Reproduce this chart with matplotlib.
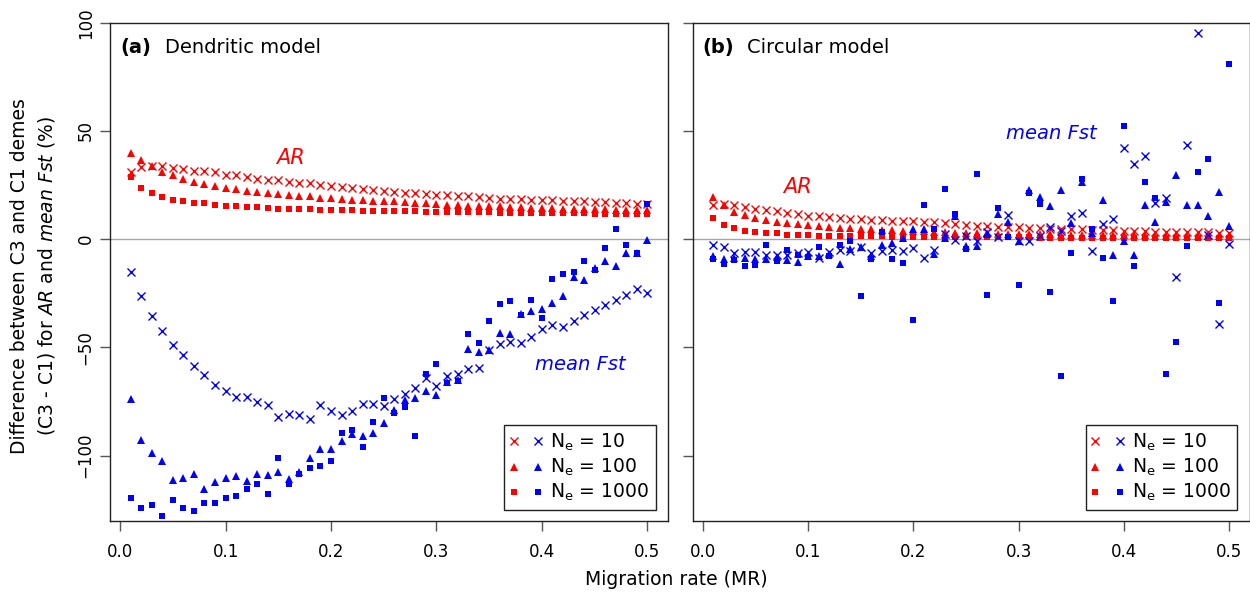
import matplotlib
matplotlib.use("Agg")
import matplotlib.pyplot as plt
from matplotlib.legend_handler import HandlerTuple

plt.rcParams["font.family"] = "DejaVu Sans"
plt.rcParams["mathtext.fontset"] = "dejavusans"

# migration rate (x) shared by both panels
mr = [0.01, 0.02, 0.03, 0.04, 0.05, 0.06, 0.07, 0.08, 0.09, 0.10,
      0.11, 0.12, 0.13, 0.14, 0.15, 0.16, 0.17, 0.18, 0.19, 0.20,
      0.21, 0.22, 0.23, 0.24, 0.25, 0.26, 0.27, 0.28, 0.29, 0.30,
      0.31, 0.32, 0.33, 0.34, 0.35, 0.36, 0.37, 0.38, 0.39, 0.40,
      0.41, 0.42, 0.43, 0.44, 0.45, 0.46, 0.47, 0.48, 0.49, 0.50]

ne_labels = ["10", "100", "1000"]

# (a) dendritic model
dend_ar_10 = [31.1, 33.5, 33.8, 34.0, 32.9, 32.6, 31.7, 31.4, 30.8, 29.8,
              29.5, 28.5, 27.8, 27.5, 27.4, 26.3, 26.0, 25.7, 25.1, 24.6,
              24.2, 23.4, 23.1, 22.8, 22.2, 21.8, 21.5, 21.2, 20.9, 20.6,
              20.2, 20.0, 19.7, 19.5, 19.2, 18.6, 18.6, 18.6, 18.3, 18.2,
              18.0, 17.8, 17.7, 17.5, 17.2, 17.1, 16.9, 16.5, 16.3, 16.0]
dend_ar_100 = [39.7, 36.5, 33.8, 30.9, 29.7, 27.8, 26.5, 25.4, 24.6, 23.8,
               23.1, 22.3, 22.0, 21.5, 20.9, 20.5, 20.0, 19.7, 19.1, 18.8,
               18.5, 18.2, 18.0, 17.7, 17.4, 17.4, 17.1, 16.8, 16.5, 16.2,
               15.8, 15.7, 15.4, 15.4, 15.2, 15.1, 14.9, 14.8, 14.6, 14.4,
               14.2, 14.1, 14.0, 13.9, 13.8, 13.7, 13.6, 13.5, 13.5, 13.4]
dend_ar_1000 = [28.5, 23.7, 21.1, 19.5, 18.3, 17.8, 16.9, 16.5, 15.8, 15.5,
                15.1, 14.9, 14.8, 14.6, 14.0, 14.0, 14.0, 14.0, 13.5, 13.5,
                13.5, 13.5, 13.1, 13.1, 13.1, 13.1, 13.1, 13.1, 12.6, 12.6,
                12.6, 12.6, 12.6, 12.6, 12.5, 12.3, 12.3, 12.2, 12.2, 12.2,
                12.1, 12.1, 12.0, 12.0, 11.8, 11.8, 11.8, 11.8, 11.8, 11.8]
dend_fst_10 = [-15.1, -26.2, -35.4, -42.3, -48.9, -53.7, -58.5, -62.9, -67.4, -70.2,
               -72.8, -72.8, -75.1, -76.8, -82.3, -80.6, -81.4, -83.1, -76.8, -79.4,
               -81.4, -79.3, -76.3, -76.3, -77.1, -74.0, -71.4, -68.9, -64.0, -67.9,
               -63.4, -62.5, -60.2, -59.4, -51.1, -48.5, -47.6, -48.2, -45.4, -41.7,
               -39.7, -40.5, -37.6, -35.1, -32.6, -30.6, -28.0, -25.9, -23.0, -25.0]
dend_fst_100 = [-74.0, -92.6, -98.9, -102.5, -111.3, -110.5, -108.5, -115.6, -112.2, -110.6,
                -109.6, -111.6, -108.6, -108.9, -107.4, -110.9, -107.7, -101.2, -96.9, -96.8,
                -93.3, -89.9, -91.0, -89.4, -85.1, -79.0, -74.5, -73.6, -70.3, -72.0,
                -66.0, -65.0, -50.8, -52.2, -51.1, -43.4, -44.0, -34.8, -33.2, -32.2,
                -29.6, -26.2, -17.4, -18.8, -13.3, -9.9, -12.3, -6.2, -6.5, -0.4]
dend_fst_1000 = [-119.7, -124.3, -122.9, -127.7, -120.6, -124.3, -125.7, -122.0, -121.7, -119.7,
                 -118.8, -115.6, -113.2, -117.9, -100.9, -113.2, -108.6, -105.6, -105.0, -102.6,
                 -89.7, -88.0, -96.2, -84.6, -73.6, -80.3, -77.7, -91.1, -62.3, -57.9,
                 -66.6, -65.7, -44.0, -48.2, -37.6, -30.2, -28.8, -35.2, -28.3, -36.6,
                 -18.2, -15.9, -15.2, -9.9, -14.2, -4.3, 4.5, -2.5, -6.2, 16.3]

# (b) circular model
circ_ar_10 = [15.8, 16.2, 15.8, 15.0, 13.9, 13.3, 12.8, 12.1, 11.6, 10.8,
              10.5, 10.2, 9.9, 9.3, 9.2, 9.0, 8.7, 8.5, 8.4, 8.2,
              8.0, 7.7, 7.4, 7.0, 6.6, 6.2, 6.0, 5.7, 5.7, 5.5,
              5.2, 5.2, 4.9, 4.8, 4.8, 4.5, 4.3, 4.2, 4.2, 3.8,
              3.8, 3.7, 3.5, 3.4, 3.2, 3.2, 3.1, 3.1, 2.9, 2.8]
circ_ar_100 = [19.3, 15.8, 12.7, 11.3, 9.8, 8.8, 8.1, 7.5, 6.8, 6.4,
               5.9, 5.6, 5.3, 5.0, 4.7, 4.5, 4.2, 4.1, 3.9, 3.8,
               3.6, 3.3, 3.2, 3.0, 2.8, 2.7, 2.6, 2.5, 2.4, 2.4,
               2.3, 2.2, 2.2, 2.1, 2.0, 2.0, 1.9, 1.9, 1.8, 1.8,
               1.7, 1.7, 1.6, 1.6, 1.6, 1.5, 1.5, 1.5, 1.4, 1.4]
circ_ar_1000 = [9.9, 6.4, 5.0, 3.9, 3.2, 2.7, 2.7, 2.1, 1.8, 1.8,
                1.6, 1.6, 1.5, 1.5, 1.5, 1.3, 1.3, 1.2, 1.2, 1.1,
                1.1, 1.0, 1.0, 1.0, 0.9, 0.9, 0.9, 0.8, 0.8, 0.8,
                0.8, 0.7, 0.7, 0.7, 0.7, 0.7, 0.6, 0.6, 0.6, 0.6,
                0.6, 0.6, 0.5, 0.5, 0.5, 0.5, 0.5, 0.5, 0.5, 0.5]
circ_fst_10 = [-2.9, -3.8, -6.3, -6.1, -5.9, -7.2, -7.2, -7.5, -6.2, -6.0,
               -8.7, -6.0, -5.0, -5.3, -3.8, -6.4, -5.3, -5.0, -5.3, -4.2,
               -8.8, -4.9, 2.2, -0.5, 1.5, -0.8, 3.1, 0.8, 11.2, -0.8,
               -0.8, 1.5, 5.4, 3.8, 10.5, 12.3, -5.4, 6.8, 9.4, 42.3,
               34.6, 38.2, 16.8, 19.1, -17.4, 43.4, 95.4, 2.0, -39.4, -2.3]
circ_fst_100 = [-7.9, -9.3, -8.5, -8.8, -9.2, -9.2, -8.4, -9.8, -10.5, -8.0,
                -7.8, -7.0, -11.6, -4.5, -3.5, -8.0, -2.7, -1.7, 0.6, 4.7,
                4.7, -7.0, 0.5, 10.6, -3.0, -3.1, 2.3, 11.8, 7.7, -0.8,
                22.6, 19.5, 15.4, 22.7, 7.4, 26.5, 2.6, 18.3, -7.2, -0.8,
                -7.2, 15.8, 8.0, 17.2, 29.6, 15.7, 15.6, 10.7, 22.0, 6.1]
circ_fst_1000 = [-9.0, -11.6, -9.7, -12.5, -12.1, -2.8, -10.2, -5.2, -7.5, -8.3,
                 -3.8, -7.6, -2.9, -1.0, -26.5, -9.3, 3.5, -9.3, -10.9, -37.2,
                 15.7, 4.7, 23.0, 11.4, -4.5, 29.9, -25.9, 14.2, 1.1, -21.4,
                 21.3, 16.1, -24.6, -63.2, -6.6, 28.0, 4.5, -8.5, -28.5, 52.4,
                 -12.2, 26.6, 19.1, -62.3, -47.5, -3.4, 30.8, 37.2, -29.6, 81.1]

RED = "#ff0000"
BLUE = "#0000ff"
MARKERS = [("x", 6.0, 1.0), ("^", 6.0, 0), ("s", 5.0, 0)]
XLIM = (-0.0096, 0.5196)
YLIM = (-130.1, 99.8)


def plot_group(ax, series, color):
    handles = []
    for values, (marker, size, mew) in zip(series, MARKERS):
        (h,) = ax.plot(mr, values, linestyle="none", marker=marker, markersize=size,
                       color=color, markeredgewidth=mew if mew else 0.0)
        handles.append(h)
    return handles


def draw_panel(ax, ar, fst, tag, title, ar_pos, fst_pos, show_ylabels):
    ax.axhline(0, color="#a6a6a6", lw=1.0, zorder=0)
    red = plot_group(ax, ar, RED)
    blue = plot_group(ax, fst, BLUE)

    ax.set_xlim(*XLIM)
    ax.set_ylim(*YLIM)
    ax.set_xticks([0.0, 0.1, 0.2, 0.3, 0.4, 0.5])
    ax.set_xticklabels(["0.0", "0.1", "0.2", "0.3", "0.4", "0.5"])
    ax.set_yticks([-100, -50, 0, 50, 100])
    ax.tick_params(direction="out", length=7, width=1, color="#555555", labelsize=12)
    ax.tick_params(axis="x", pad=9)
    ax.tick_params(axis="y", pad=4, labelrotation=90)
    if show_ylabels:
        for lab in ax.get_yticklabels():
            lab.set_va("center")
    else:
        ax.set_yticklabels([])
    for sp in ax.spines.values():
        sp.set_color("#222222")
        sp.set_linewidth(1.0)

    ax.text(0.018, 0.95, tag, transform=ax.transAxes, fontsize=14, fontweight="bold",
            va="center", ha="left")
    ax.text(0.098, 0.95, title, transform=ax.transAxes, fontsize=14, va="center", ha="left")
    ax.text(ar_pos[0], ar_pos[1], "AR", color=RED, fontsize=15, style="italic",
            ha="center", va="center")
    ax.text(fst_pos[0], fst_pos[1], "mean Fst", color=BLUE, fontsize=14, style="italic",
            ha="center", va="center")

    handles = [(r, b) for r, b in zip(red, blue)]
    labels = [r"$\mathregular{N_e}$ = " + n for n in ne_labels]
    leg = ax.legend(handles, labels, handler_map={tuple: HandlerTuple(ndivide=None, pad=1.0)},
                    loc="lower right", bbox_to_anchor=(0.978, 0.0215), borderaxespad=0,
                    fancybox=False, framealpha=1, edgecolor="#222222", fontsize=13.5,
                    handlelength=1.6, handletextpad=0.5, labelspacing=0.2, borderpad=0.35)
    leg.get_frame().set_linewidth(1.0)


def main():
    fig = plt.figure(figsize=(12.5, 5.94), dpi=100)
    ax_a = fig.add_axes([0.088, 0.1234, 0.4464, 0.8384])
    ax_b = fig.add_axes([0.5542, 0.1234, 0.4456, 0.8384])

    draw_panel(ax_a, [dend_ar_10, dend_ar_100, dend_ar_1000],
               [dend_fst_10, dend_fst_100, dend_fst_1000],
               "(a)", "Dendritic model", (0.162, 37.6), (0.436, -57.8), True)
    draw_panel(ax_b, [circ_ar_10, circ_ar_100, circ_ar_1000],
               [circ_fst_10, circ_fst_100, circ_fst_1000],
               "(b)", "Circular model", (0.0896, 24.0), (0.331, 48.6), False)

    fig.text(0.016, 0.535, "Difference between C3 and C1 demes", rotation=90,
             fontsize=13.5, ha="center", va="center")
    fig.text(0.037, 0.535, r"(C3 - C1) for $\mathit{AR}$ and $\mathit{mean\ Fst}$ (%)",
             rotation=90, fontsize=13.5, ha="center", va="center")
    fig.text(0.541, 0.024, "Migration rate (MR)", fontsize=13.5, ha="center", va="center")

    fig.savefig("out.png", dpi=100)


if __name__ == "__main__":
    main()
